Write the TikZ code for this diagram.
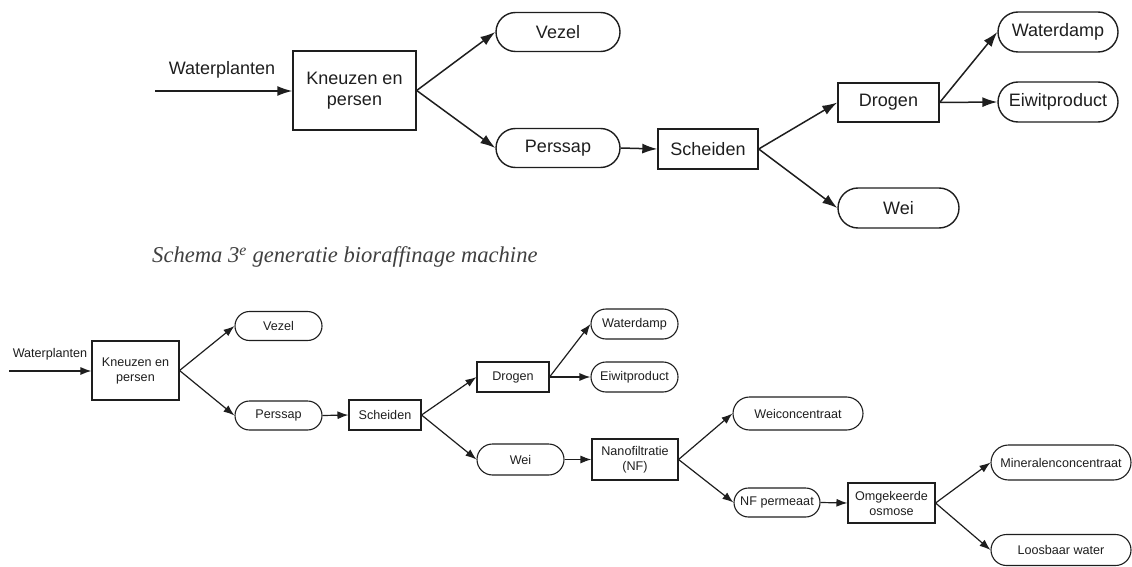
\documentclass[tikz,border=0pt]{standalone}
\usepackage{fontspec}
\setmainfont{Liberation Sans}
\newfontfamily\capfont{Liberation Serif}
\usetikzlibrary{arrows.meta,shapes.misc}
\definecolor{ink}{HTML}{1E1E1E}
\begin{document}
\begin{tikzpicture}[x=1pt,y=-1pt,
  every node/.style={text=ink, inner sep=0pt, align=center},
  bbox/.style={draw=ink, line width=1.4pt, font=\fontsize{18}{21}\selectfont},
  bpill/.style={draw=ink, line width=1.4pt, rounded rectangle, font=\fontsize{18}{21}\selectfont},
  sbox/.style={draw=ink, line width=1.1pt, font=\fontsize{12.6}{15}\selectfont},
  spill/.style={draw=ink, line width=1.1pt, rounded rectangle, font=\fontsize{12.6}{15}\selectfont},
  barr/.style={draw=ink, line width=1.5pt, -{Latex[length=15pt,width=10pt]}},
  sarr/.style={draw=ink, line width=1.2pt, -{Latex[length=11pt,width=8pt]}},
]
\useasboundingbox (0,0) rectangle (1132,567);

% ---------- top diagram ----------
\coordinate (tin) at (155,91);
\node[font=\fontsize{18}{21}\selectfont] (twp) at (222,70) {Waterplanten};
\node[bbox, minimum width=123pt, minimum height=79pt] (tkn) at (354.5,90.5) {Kneuzen en\\persen};
\node[bpill, minimum width=124pt, minimum height=39pt] (tvz) at (558,32) {Vezel};
\node[bpill, minimum width=124pt, minimum height=39pt] (tps) at (558,148) {Perssap};
\node[bbox, minimum width=100pt, minimum height=40pt] (tsc) at (708,149) {Scheiden};
\node[bbox, minimum width=101pt, minimum height=39pt] (tdr) at (888.5,102.5) {Drogen};
\node[bpill, minimum width=121pt, minimum height=40pt] (twe) at (898.5,208) {Wei};
\node[bpill, minimum width=120pt, minimum height=40pt] (twd) at (1058,32) {Waterdamp};
\node[bpill, minimum width=120pt, minimum height=40pt] (tei) at (1058,102) {Eiwitproduct};

\draw[barr] (tin) -- (tkn.west |- tin);
\draw[barr] (tkn.east) -- (tvz.west);
\draw[barr] (tkn.east) -- (tps.west);
\draw[barr] (tps.east) -- (tsc.west);
\draw[barr] (tsc.east) -- (tdr.west);
\draw[barr] (tsc.east) -- (twe.west);
\draw[barr] (tdr.east) -- (twd.west);
\draw[barr] (tdr.east) -- (tei.west);

% ---------- caption ----------
\node[anchor=west, text=ink!85, font=\capfont\itshape\fontsize{22.6}{26}\selectfont] (cap) at (152,257)
  {Schema 3\textsuperscript{e} generatie bioraffinage machine};

% ---------- bottom diagram ----------
\coordinate (bin) at (9,371);
\node[font=\fontsize{12.6}{15}\selectfont] (bwp) at (50,354) {Waterplanten};
\node[sbox, minimum width=87pt, minimum height=59pt] (bkn) at (135.5,370.5) {Kneuzen en\\persen};
\node[spill, minimum width=87pt, minimum height=29pt] (bvz) at (278.5,326) {Vezel};
\node[spill, minimum width=87pt, minimum height=29pt] (bps) at (278.5,415.5) {Perssap};
\node[sbox, minimum width=72pt, minimum height=30pt] (bsc) at (385,415) {Scheiden};
\node[sbox, minimum width=72pt, minimum height=30pt] (bdr) at (513,377) {Drogen};
\node[spill, minimum width=87pt, minimum height=30pt] (bwd) at (634.5,324) {Waterdamp};
\node[spill, minimum width=87pt, minimum height=30pt] (bei) at (634.5,377) {Eiwitproduct};
\node[spill, minimum width=87pt, minimum height=31pt] (bwe) at (520.5,459.5) {Wei};
\node[sbox, minimum width=86pt, minimum height=41pt] (bnf) at (635,459.5) {Nanofiltratie\\(NF)};
\node[spill, minimum width=130pt, minimum height=33pt] (bwc) at (798,413.5) {Weiconcentraat};
\node[spill, minimum width=86pt, minimum height=29pt] (bnp) at (777,502.5) {NF permeaat};
\node[sbox, minimum width=87pt, minimum height=40pt] (bro) at (891.5,503) {Omgekeerde\\osmose};
\node[spill, minimum width=140pt, minimum height=35pt] (bmc) at (1061,462.5) {Mineralenconcentraat};
\node[spill, minimum width=140pt, minimum height=31pt] (blw) at (1061,550) {Loosbaar water};

\draw[sarr] (bin) -- (bkn.west |- bin);
\draw[sarr] (bkn.east) -- (bvz.west);
\draw[sarr] (bkn.east) -- (bps.west);
\draw[sarr] (bps.east) -- (bsc.west);
\draw[sarr] (bsc.east) -- (bdr.west);
\draw[sarr] (bsc.east) -- (bwe.west);
\draw[sarr] (bdr.east) -- (bwd.west);
\draw[sarr] (bdr.east) -- (bei.west);
\draw[sarr] (bwe.east) -- (bnf.west);
\draw[sarr] (bnf.east) -- (bwc.west);
\draw[sarr] (bnf.east) -- (bnp.west);
\draw[sarr] (bnp.east) -- (bro.west);
\draw[sarr] (bro.east) -- (bmc.west);
\draw[sarr] (bro.east) -- (blw.west);
\end{tikzpicture}
\end{document}
